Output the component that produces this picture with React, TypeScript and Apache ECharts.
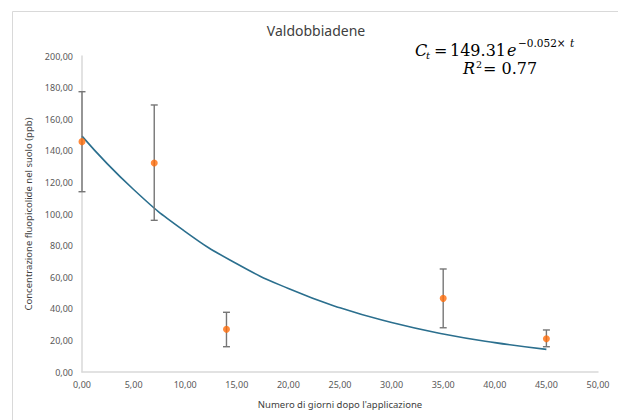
import React, { useEffect, useRef } from "react";
import * as echarts from "echarts";

const days = [0, 7, 14, 35, 45];
const meanValues = [145.8, 132.3, 27.0, 46.6, 21.1];
const lowValues = [114.1, 96.0, 16.0, 28.0, 16.0];
const highValues = [177.4, 169.0, 37.8, 65.2, 26.6];

const trendDays = [0, 5, 10, 15, 20, 25, 30, 35, 40, 45];
const trendValues = [149.3, 115.5, 88.9, 68.5, 52.8, 40.6, 31.3, 24.1, 18.6, 14.3];

const yTicks = [0, 20, 40, 60, 80, 100, 120, 140, 160, 180, 200];
const xTicks = [0, 5, 10, 15, 20, 25, 30, 35, 40, 45, 50];

const fmt = (v: number) => v.toFixed(2).replace(".", ",");

const serif = "'DejaVu Serif', 'Liberation Serif', serif";

function eqText(text: string, x: number, baseline: number, size: number, italic = false) {
  return {
    type: "text",
    x,
    y: baseline - size * 0.36,
    style: {
      text,
      fill: "#000000",
      font: `${italic ? "italic " : ""}${size}px ${serif}`,
      align: "left",
      verticalAlign: "middle",
    },
  };
}

export default function App() {
  const ref = useRef<HTMLDivElement>(null);
  useEffect(() => {
    if (!ref.current) return;
    const chart = echarts.init(ref.current, null, { renderer: "svg" });
    const labelFont = "'Noto Sans', 'Open Sans', sans-serif";
    chart.setOption({
      animation: false,
      backgroundColor: "#ffffff",
      grid: { left: 82, right: 20, top: 56, bottom: 48 },
      xAxis: {
        type: "value",
        min: xTicks[0],
        max: xTicks[xTicks.length - 1],
        interval: 5,
        name: "Numero di giorni dopo l'applicazione",
        nameLocation: "middle",
        nameGap: 27,
        nameTextStyle: { color: "#404040", fontSize: 9.5, fontFamily: labelFont },
        axisLine: { show: true, lineStyle: { color: "#d9d9d9", width: 1.5 } },
        axisTick: { show: false },
        splitLine: { show: false },
        axisLabel: { color: "#595959", fontSize: 9, fontFamily: labelFont, margin: 8, formatter: fmt },
      },
      yAxis: {
        type: "value",
        min: yTicks[0],
        max: yTicks[yTicks.length - 1],
        interval: 20,
        name: "Concentrazione fluopicolide nel suolo (ppb)",
        nameLocation: "middle",
        nameGap: 39,
        nameTextStyle: { color: "#404040", fontSize: 9.5, fontFamily: labelFont },
        axisLine: { show: true, lineStyle: { color: "#d9d9d9", width: 1.5 } },
        axisTick: { show: false },
        splitLine: { show: false },
        axisLabel: { color: "#595959", fontSize: 9, fontFamily: labelFont, margin: 9, formatter: fmt },
      },
      graphic: [
        {
          type: "rect",
          shape: { x: 12.5, y: 11.5, width: 700, height: 500 },
          style: { fill: "none", stroke: "#d9d9d9", lineWidth: 1 },
          silent: true,
          z: -10,
        },
        {
          type: "text",
          x: 316,
          y: 30,
          style: {
            text: "Valdobbiadene",
            fill: "#404040",
            font: `14px ${labelFont}`,
            align: "center",
            verticalAlign: "middle",
          },
        },
        eqText("C", 415, 56, 16, true),
        eqText("t", 426, 59, 10, true),
        eqText("=", 434, 56, 16),
        eqText("149.31", 450, 56, 16),
        eqText("e", 507, 56, 16, true),
        eqText("−0.052×", 518, 47, 10.5),
        eqText("t", 570, 47, 10.5, true),
        eqText("R", 463, 74, 16, true),
        eqText("2", 476, 68, 9.5),
        eqText("= 0.77", 483, 74, 16),
      ],
      series: [
        {
          type: "line",
          data: trendDays.map((d, i) => [d, trendValues[i]]),
          smooth: true,
          showSymbol: false,
          lineStyle: { color: "#2b6f8e", width: 1.6 },
          z: 2,
        },
        {
          type: "custom",
          data: days.map((d, i) => [d, lowValues[i], highValues[i]]),
          renderItem: (params: any, api: any) => {
            const x = api.value(0);
            const lo = api.coord([x, api.value(1)]);
            const hi = api.coord([x, api.value(2)]);
            const cap = 3.5;
            const style = { stroke: "#767676", lineWidth: 1.4 };
            return {
              type: "group",
              children: [
                { type: "line", shape: { x1: lo[0], y1: lo[1], x2: hi[0], y2: hi[1] }, style },
                { type: "line", shape: { x1: lo[0] - cap, y1: lo[1], x2: lo[0] + cap, y2: lo[1] }, style },
                { type: "line", shape: { x1: hi[0] - cap, y1: hi[1], x2: hi[0] + cap, y2: hi[1] }, style },
              ],
            };
          },
          z: 3,
        },
        {
          type: "scatter",
          data: days.map((d, i) => [d, meanValues[i]]),
          symbol: "circle",
          symbolSize: 7,
          itemStyle: { color: "#ff6d0a" },
          z: 4,
        },
      ],
    });
    return () => chart.dispose();
  }, []);
  return <div ref={ref} style={{ width: 618, height: 420, position: "absolute", left: 0, top: 0 }} />;
}
